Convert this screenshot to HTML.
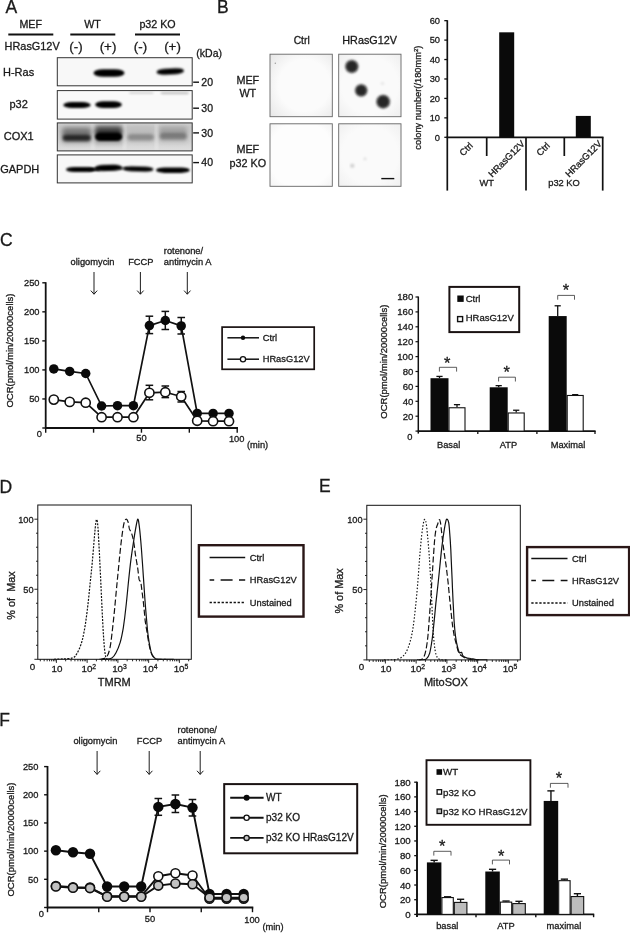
<!DOCTYPE html>
<html lang="en"><head><meta charset="utf-8"><title>Figure</title>
<style>
html,body{margin:0;padding:0;background:#fff;}
body{width:630px;height:938px;overflow:hidden;}
svg{display:block;}
svg text{font-family:"Liberation Sans",sans-serif;fill:#1a1a1a;stroke:#1a1a1a;stroke-width:0.3px;}
</style></head><body>
<svg width="630" height="938" viewBox="0 0 630 938">
<defs>
<filter id="bl05" x="-20%" y="-50%" width="140%" height="200%"><feGaussianBlur stdDeviation="0.5"/></filter>
<filter id="bl08" x="-20%" y="-80%" width="140%" height="260%"><feGaussianBlur stdDeviation="0.8"/></filter>
<filter id="bl1" x="-20%" y="-80%" width="140%" height="260%"><feGaussianBlur stdDeviation="1.1"/></filter>
<filter id="bl15" x="-20%" y="-80%" width="140%" height="260%"><feGaussianBlur stdDeviation="1.5"/></filter>
<filter id="bl2" x="-30%" y="-100%" width="160%" height="300%"><feGaussianBlur stdDeviation="2.2"/></filter>
<filter id="bl3" x="-30%" y="-100%" width="160%" height="300%"><feGaussianBlur stdDeviation="3"/></filter>
<linearGradient id="cox" x1="0" y1="0" x2="0" y2="1"><stop offset="0" stop-color="#cdcdcd"/><stop offset="0.15" stop-color="#c6c6c6"/><stop offset="0.65" stop-color="#d0d0d0"/><stop offset="1" stop-color="#dfdfdf"/></linearGradient>
<radialGradient id="g1" cx="0.55" cy="0.5" r="0.75"><stop offset="0.55" stop-color="#fbfbfb"/><stop offset="1" stop-color="#e6e6e6"/></radialGradient>
<radialGradient id="g2" cx="0.5" cy="0.5" r="0.75"><stop offset="0.6" stop-color="#fafafa"/><stop offset="1" stop-color="#ececec"/></radialGradient>
<radialGradient id="g3" cx="0.5" cy="0.5" r="0.75"><stop offset="0.7" stop-color="#fdfdfd"/><stop offset="1" stop-color="#f1f1f1"/></radialGradient>
<radialGradient id="g4" cx="0.5" cy="0.5" r="0.75"><stop offset="0.6" stop-color="#fafafa"/><stop offset="1" stop-color="#eeeeee"/></radialGradient>
</defs>
<rect width="630" height="938" fill="#fff"/>
<text x="5.4" y="13.3" font-size="17.5" text-anchor="start" >A</text>
<text x="30.7" y="27.5" font-size="10.7" text-anchor="middle" >MEF</text>
<text x="92.6" y="27.5" font-size="10.7" text-anchor="middle" >WT</text>
<text x="157.5" y="27.5" font-size="10.7" text-anchor="middle" >p32 KO</text>
<line x1="8.3" y1="34.5" x2="53.3" y2="34.5" stroke="#111" stroke-width="1.8" />
<line x1="70.3" y1="34.5" x2="115.3" y2="34.5" stroke="#111" stroke-width="1.8" />
<line x1="135" y1="34.5" x2="180" y2="34.5" stroke="#111" stroke-width="1.8" />
<text x="4.6" y="50.2" font-size="10.9" text-anchor="start" >HRasG12V</text>
<text x="76" y="50.6" font-size="13.3" text-anchor="middle" >(-)</text>
<text x="108" y="50.6" font-size="13.3" text-anchor="middle" >(+)</text>
<text x="140.5" y="50.6" font-size="13.3" text-anchor="middle" >(-)</text>
<text x="172.5" y="50.6" font-size="13.3" text-anchor="middle" >(+)</text>
<text x="196.3" y="56.9" font-size="10.5" text-anchor="start" >(kDa)</text>
<text x="3.0" y="75.8" font-size="11" text-anchor="start" >H-Ras</text>
<text x="9.4" y="107.5" font-size="11" text-anchor="start" >p32</text>
<text x="3.7" y="140.0" font-size="11" text-anchor="start" >COX1</text>
<text x="0.2" y="172.9" font-size="11" text-anchor="start" >GAPDH</text>
<clipPath id="cb0"><rect x="57.3" y="57.7" width="134.89999999999998" height="28.099999999999994"/></clipPath>
<rect x="57.30" y="57.70" width="134.90" height="28.10" fill="#f8f8f8" stroke="none" stroke-width="0" />
<clipPath id="cb1"><rect x="57.3" y="90.6" width="134.89999999999998" height="28.5"/></clipPath>
<rect x="57.30" y="90.60" width="134.90" height="28.50" fill="#f9f9f9" stroke="none" stroke-width="0" />
<clipPath id="cb2"><rect x="57.3" y="122.9" width="134.89999999999998" height="28.0"/></clipPath>
<rect x="57.30" y="122.90" width="134.90" height="28.00" fill="#d2d2d2" stroke="none" stroke-width="0" />
<clipPath id="cb3"><rect x="57.3" y="154.9" width="134.89999999999998" height="28.0"/></clipPath>
<rect x="57.30" y="154.90" width="134.90" height="28.00" fill="#f8f8f8" stroke="none" stroke-width="0" />
<g clip-path="url(#cb0)">
<rect clip-path="url(#cb0)" x="93.5" y="69.2" width="31.0" height="7.6" rx="9.69" ry="3.80" fill="#000" opacity="1.0" filter="url(#bl1)"/>
<rect clip-path="url(#cb0)" x="156.5" y="68.4" width="27.5" height="6.0" rx="8.59" ry="3.00" fill="#000" opacity="1.0" filter="url(#bl1)" transform="rotate(-3 170.25 71.4)"/>
</g>
<g clip-path="url(#cb1)">
<rect clip-path="url(#cb1)" x="63.3" y="102.0" width="27.400000000000006" height="6.0" rx="8.56" ry="3.00" fill="#000" opacity="1.0" filter="url(#bl1)"/>
<rect clip-path="url(#cb1)" x="95.2" y="101.3" width="26.599999999999994" height="6.8" rx="8.31" ry="3.40" fill="#000" opacity="1.0" filter="url(#bl1)"/>
<rect clip-path="url(#cb1)" x="128.5" y="92.0" width="25.5" height="2.0" rx="3.20" ry="1.00" fill="#000" opacity="0.15" filter="url(#bl08)"/>
<rect clip-path="url(#cb1)" x="160.5" y="92.10000000000001" width="28.5" height="2.2" rx="3.52" ry="1.10" fill="#000" opacity="0.22" filter="url(#bl08)"/>
</g>
<g clip-path="url(#cb2)">
<rect x="57.3" y="122.9" width="134.89999999999998" height="28" fill="url(#cox)"/>
<rect x="91.2" y="124" width="3.2" height="26" fill="#fff" opacity="0.30" filter="url(#bl15)"/>
<rect x="122.9" y="124" width="3.2" height="26" fill="#fff" opacity="0.30" filter="url(#bl15)"/>
<rect x="154.9" y="124" width="3.2" height="26" fill="#fff" opacity="0.30" filter="url(#bl15)"/>
<rect clip-path="url(#cb2)" x="61.5" y="127.0" width="30.0" height="17" rx="3.00" ry="3.00" fill="#000" opacity="0.16" filter="url(#bl2)"/>
<rect clip-path="url(#cb2)" x="94.5" y="125.0" width="28.0" height="19" rx="3.00" ry="3.00" fill="#000" opacity="0.22" filter="url(#bl2)"/>
<rect clip-path="url(#cb2)" x="127" y="128.0" width="27.5" height="15" rx="3.00" ry="3.00" fill="#000" opacity="0.06" filter="url(#bl2)"/>
<rect clip-path="url(#cb2)" x="159" y="126.0" width="28.5" height="17" rx="3.00" ry="3.00" fill="#000" opacity="0.08" filter="url(#bl2)"/>
<rect clip-path="url(#cb2)" x="62.5" y="128.5" width="28.5" height="9" rx="4.00" ry="4.00" fill="#000" opacity="0.3" filter="url(#bl2)"/>
<rect clip-path="url(#cb2)" x="62.5" y="134.7" width="28.5" height="6.6" rx="4.00" ry="3.30" fill="#000" opacity="0.74" filter="url(#bl15)"/>
<rect clip-path="url(#cb2)" x="95.3" y="127.25" width="26.700000000000003" height="9.5" rx="4.00" ry="4.00" fill="#000" opacity="0.62" filter="url(#bl2)"/>
<rect clip-path="url(#cb2)" x="95" y="132.5" width="27.200000000000003" height="8.6" rx="5.00" ry="4.30" fill="#000" opacity="1.0" filter="url(#bl1)"/>
<rect clip-path="url(#cb2)" x="127.5" y="133.95" width="26.5" height="6.5" rx="4.00" ry="3.25" fill="#000" opacity="0.27" filter="url(#bl15)"/>
<rect clip-path="url(#cb2)" x="159.5" y="128.0" width="27.5" height="8" rx="4.00" ry="4.00" fill="#000" opacity="0.13" filter="url(#bl2)"/>
<rect clip-path="url(#cb2)" x="159.5" y="133.0" width="27.5" height="6.8" rx="4.00" ry="3.40" fill="#000" opacity="0.3" filter="url(#bl15)"/>
</g>
<g clip-path="url(#cb3)">
<rect clip-path="url(#cb3)" x="66" y="167.0" width="29" height="5.0" rx="8.00" ry="2.50" fill="#000" opacity="1" filter="url(#bl08)"/>
<rect clip-path="url(#cb3)" x="94.5" y="164.8" width="27.5" height="6.2" rx="8.59" ry="3.10" fill="#000" opacity="1" filter="url(#bl08)" transform="rotate(-1.5 108.25 167.9)"/>
<rect clip-path="url(#cb3)" x="123.5" y="166.6" width="30.0" height="5.0" rx="8.00" ry="2.50" fill="#000" opacity="1" filter="url(#bl08)" transform="rotate(1.5 138.5 169.1)"/>
<rect clip-path="url(#cb3)" x="156" y="167.5" width="33.80000000000001" height="5.4" rx="8.64" ry="2.70" fill="#000" opacity="1" filter="url(#bl08)"/>
<rect clip-path="url(#cb3)" x="88" y="167.9" width="12" height="3.0" rx="3.75" ry="1.50" fill="#000" opacity="0.9" filter="url(#bl08)"/>
<rect clip-path="url(#cb3)" x="118" y="167.3" width="10" height="2.2" rx="3.12" ry="1.10" fill="#000" opacity="0.7" filter="url(#bl08)"/>
</g>
<rect x="57.30" y="57.70" width="134.90" height="28.10" fill="none" stroke="#333" stroke-width="1.0" />
<rect x="57.30" y="90.60" width="134.90" height="28.50" fill="none" stroke="#333" stroke-width="1.0" />
<rect x="57.30" y="122.90" width="134.90" height="28.00" fill="none" stroke="#333" stroke-width="1.0" />
<rect x="57.30" y="154.90" width="134.90" height="28.00" fill="none" stroke="#333" stroke-width="1.0" />
<line x1="193.2" y1="82.2" x2="199" y2="82.2" stroke="#111" stroke-width="1.4" />
<text x="201.3" y="85.8" font-size="10.5" text-anchor="start" >20</text>
<line x1="193.2" y1="108.2" x2="199" y2="108.2" stroke="#111" stroke-width="1.4" />
<text x="201.3" y="111.8" font-size="10.5" text-anchor="start" >30</text>
<line x1="193.2" y1="132.9" x2="199" y2="132.9" stroke="#111" stroke-width="1.4" />
<text x="201.3" y="136.5" font-size="10.5" text-anchor="start" >30</text>
<line x1="193.2" y1="162.6" x2="199" y2="162.6" stroke="#111" stroke-width="1.4" />
<text x="201.3" y="166.2" font-size="10.5" text-anchor="start" >40</text>
<text x="217" y="13.4" font-size="17.5" text-anchor="start" >B</text>
<text x="301.7" y="44.3" font-size="10.3" text-anchor="middle" >Ctrl</text>
<text x="369.6" y="44.3" font-size="10.8" text-anchor="middle" >HRasG12V</text>
<text x="247.8" y="84.3" font-size="10.8" text-anchor="middle" >MEF</text>
<text x="247.8" y="96.9" font-size="10.8" text-anchor="middle" >WT</text>
<text x="247.8" y="152.7" font-size="10.8" text-anchor="middle" >MEF</text>
<text x="247.9" y="166.5" font-size="10.8" text-anchor="middle" >p32 KO</text>
<rect x="270.00" y="54.20" width="62.30" height="62.50" fill="url(#g1)" stroke="#666" stroke-width="0.9" />
<rect x="338.70" y="54.20" width="62.30" height="62.50" fill="url(#g2)" stroke="#666" stroke-width="0.9" />
<rect x="270.00" y="123.80" width="62.30" height="62.50" fill="url(#g3)" stroke="#666" stroke-width="0.9" />
<rect x="338.70" y="123.80" width="62.30" height="62.50" fill="url(#g4)" stroke="#666" stroke-width="0.9" />
<circle cx="351.8" cy="66.5" r="7.0" fill="#555" opacity="0.55" filter="url(#bl08)"/>
<circle cx="351.8" cy="66.5" r="5.8" fill="#262626" filter="url(#bl08)"/>
<circle cx="361.2" cy="90.4" r="6.6000000000000005" fill="#555" opacity="0.55" filter="url(#bl08)"/>
<circle cx="361.2" cy="90.4" r="5.4" fill="#262626" filter="url(#bl08)"/>
<circle cx="383.2" cy="101.7" r="7.3" fill="#555" opacity="0.55" filter="url(#bl08)"/>
<circle cx="383.2" cy="101.7" r="6.1" fill="#262626" filter="url(#bl08)"/>
<circle cx="275.3" cy="63.3" r="0.7" fill="#999"/>
<circle cx="352.3" cy="165.8" r="2.2" fill="#d4d4d4" filter="url(#bl08)"/>
<circle cx="365" cy="158.8" r="1.6" fill="#e2e2e2" filter="url(#bl08)"/>
<circle cx="382.5" cy="83.5" r="1.8" fill="#e8e8e8" filter="url(#bl08)"/>
<line x1="381.3" y1="178.6" x2="394.3" y2="178.6" stroke="#111" stroke-width="1.4" />
<line x1="447.3" y1="20.2" x2="447.3" y2="190.6" stroke="#111" stroke-width="1.7" />
<line x1="446.5" y1="137.3" x2="603.5" y2="137.3" stroke="#111" stroke-width="1.8" />
<line x1="444.3" y1="137.3" x2="447.3" y2="137.3" stroke="#111" stroke-width="1.3" />
<text x="440" y="140.60000000000002" font-size="9.3" text-anchor="end" >0</text>
<line x1="444.3" y1="117.86000000000001" x2="447.3" y2="117.86000000000001" stroke="#111" stroke-width="1.3" />
<text x="440" y="121.16000000000001" font-size="9.3" text-anchor="end" >10</text>
<line x1="444.3" y1="98.42000000000002" x2="447.3" y2="98.42000000000002" stroke="#111" stroke-width="1.3" />
<text x="440" y="101.72000000000001" font-size="9.3" text-anchor="end" >20</text>
<line x1="444.3" y1="78.98000000000002" x2="447.3" y2="78.98000000000002" stroke="#111" stroke-width="1.3" />
<text x="440" y="82.28000000000002" font-size="9.3" text-anchor="end" >30</text>
<line x1="444.3" y1="59.54000000000002" x2="447.3" y2="59.54000000000002" stroke="#111" stroke-width="1.3" />
<text x="440" y="62.84000000000002" font-size="9.3" text-anchor="end" >40</text>
<line x1="444.3" y1="40.10000000000001" x2="447.3" y2="40.10000000000001" stroke="#111" stroke-width="1.3" />
<text x="440" y="43.400000000000006" font-size="9.3" text-anchor="end" >50</text>
<line x1="444.3" y1="20.66000000000001" x2="447.3" y2="20.66000000000001" stroke="#111" stroke-width="1.3" />
<text x="440" y="23.96000000000001" font-size="9.3" text-anchor="end" >60</text>
<rect x="499.20" y="32.32" width="15.00" height="104.98" fill="#0a0a0a" stroke="none" stroke-width="0" />
<rect x="575.80" y="115.92" width="15.00" height="21.38" fill="#0a0a0a" stroke="none" stroke-width="0" />
<line x1="486.7" y1="137.3" x2="486.7" y2="156" stroke="#111" stroke-width="1.7" />
<line x1="564.3" y1="137.3" x2="564.3" y2="156" stroke="#111" stroke-width="1.7" />
<line x1="526" y1="137.3" x2="526" y2="190.6" stroke="#111" stroke-width="1.7" />
<line x1="602.7" y1="137.3" x2="602.7" y2="190.6" stroke="#111" stroke-width="1.7" />
<text x="473.6" y="146.2" font-size="9.3" text-anchor="end" transform="rotate(-45 473.6 146.2)" >Ctrl</text>
<text x="525.4" y="144.4" font-size="9.3" text-anchor="end" transform="rotate(-45 525.4 144.4)" >HRasG12V</text>
<text x="550.6" y="146.2" font-size="9.3" text-anchor="end" transform="rotate(-45 550.6 146.2)" >Ctrl</text>
<text x="602.4" y="144.4" font-size="9.3" text-anchor="end" transform="rotate(-45 602.4 144.4)" >HRasG12V</text>
<text x="486.7" y="186.3" font-size="9.3" text-anchor="middle" >WT</text>
<text x="564" y="186.3" font-size="9.3" text-anchor="middle" >p32 KO</text>
<text font-size="9.3" text-anchor="middle" transform="translate(421.3 97.6) rotate(-90)">colony number(/180mm<tspan font-size="6" dy="-3.5">2</tspan><tspan dy="3.5">)</tspan></text>
<text x="-0.1" y="246" font-size="17.5" text-anchor="start" >C</text>
<text x="70.6" y="264.8" font-size="9.3" text-anchor="start" >oligomycin</text>
<text x="128.2" y="264.8" font-size="9.3" text-anchor="start" >FCCP</text>
<text x="163.8" y="254.1" font-size="9.3" text-anchor="start" >rotenone/</text>
<text x="163.8" y="264.8" font-size="9.3" text-anchor="start" >antimycin A</text>
<line x1="94" y1="272" x2="94" y2="294.2" stroke="#111" stroke-width="0.95" />
<path d="M90.8 290.59999999999997 L94 294.2 L97.2 290.59999999999997" fill="none" stroke="#111" stroke-width="0.95"/>
<line x1="140.4" y1="272" x2="140.4" y2="294.2" stroke="#111" stroke-width="0.95" />
<path d="M137.20000000000002 290.59999999999997 L140.4 294.2 L143.6 290.59999999999997" fill="none" stroke="#111" stroke-width="0.95"/>
<line x1="187.3" y1="272" x2="187.3" y2="294.2" stroke="#111" stroke-width="0.95" />
<path d="M184.10000000000002 290.59999999999997 L187.3 294.2 L190.5 290.59999999999997" fill="none" stroke="#111" stroke-width="0.95"/>
<line x1="45.7" y1="282.2" x2="45.7" y2="428.8" stroke="#111" stroke-width="1.8" />
<line x1="45.2" y1="428.0" x2="238.0" y2="428.0" stroke="#111" stroke-width="1.8" />
<line x1="42.300000000000004" y1="428.0" x2="45.7" y2="428.0" stroke="#111" stroke-width="1.4" />
<line x1="42.300000000000004" y1="398.96" x2="45.7" y2="398.96" stroke="#111" stroke-width="1.4" />
<text x="39.5" y="402.26" font-size="9.3" text-anchor="end" >50</text>
<line x1="42.300000000000004" y1="369.92" x2="45.7" y2="369.92" stroke="#111" stroke-width="1.4" />
<text x="39.5" y="373.22" font-size="9.3" text-anchor="end" >100</text>
<line x1="42.300000000000004" y1="340.88" x2="45.7" y2="340.88" stroke="#111" stroke-width="1.4" />
<text x="39.5" y="344.18" font-size="9.3" text-anchor="end" >150</text>
<line x1="42.300000000000004" y1="311.84000000000003" x2="45.7" y2="311.84000000000003" stroke="#111" stroke-width="1.4" />
<text x="39.5" y="315.14000000000004" font-size="9.3" text-anchor="end" >200</text>
<line x1="42.300000000000004" y1="282.8" x2="45.7" y2="282.8" stroke="#111" stroke-width="1.4" />
<text x="39.5" y="286.1" font-size="9.3" text-anchor="end" >250</text>
<line x1="45.7" y1="428.0" x2="45.7" y2="432.7" stroke="#111" stroke-width="1.4" />
<line x1="93.575" y1="428.0" x2="93.575" y2="432.7" stroke="#111" stroke-width="1.4" />
<line x1="141.45" y1="428.0" x2="141.45" y2="432.7" stroke="#111" stroke-width="1.4" />
<line x1="189.325" y1="428.0" x2="189.325" y2="432.7" stroke="#111" stroke-width="1.4" />
<line x1="237.2" y1="428.0" x2="237.2" y2="432.7" stroke="#111" stroke-width="1.4" />
<text x="39.3" y="437.2" font-size="9.3" text-anchor="middle" >0</text>
<text x="141.45" y="441" font-size="9.3" text-anchor="middle" >50</text>
<text x="236.7" y="441.6" font-size="9.3" text-anchor="middle" >100</text>
<text x="247" y="448.2" font-size="9.3" text-anchor="start" >(min)</text>
<text font-size="9.5" text-anchor="middle" transform="translate(13.3 350.5) rotate(-90)">OCR(pmol/min/20000cells)</text>
<polyline points="53.8,368.9 69.7,371.4 85.7,373.5 101.6,406.0 117.5,405.7 133.4,405.7 149.4,325.6 165.3,320.5 181.2,325.9 197.2,413.4 213.1,413.4 229.0,413.4" fill="none" stroke="#111" stroke-width="1.7" stroke-linejoin="round"/>
<line x1="149.38" y1="316.2" x2="149.38" y2="333.6" stroke="#111" stroke-width="1.5" />
<line x1="145.57999999999998" y1="316.2" x2="153.18" y2="316.2" stroke="#111" stroke-width="1.5" />
<line x1="145.57999999999998" y1="333.6" x2="153.18" y2="333.6" stroke="#111" stroke-width="1.5" />
<line x1="165.31" y1="311.4" x2="165.31" y2="329.5" stroke="#111" stroke-width="1.5" />
<line x1="161.51" y1="311.4" x2="169.11" y2="311.4" stroke="#111" stroke-width="1.5" />
<line x1="161.51" y1="329.5" x2="169.11" y2="329.5" stroke="#111" stroke-width="1.5" />
<line x1="181.24" y1="317.5" x2="181.24" y2="334" stroke="#111" stroke-width="1.5" />
<line x1="177.44" y1="317.5" x2="185.04000000000002" y2="317.5" stroke="#111" stroke-width="1.5" />
<line x1="177.44" y1="334" x2="185.04000000000002" y2="334" stroke="#111" stroke-width="1.5" />
<circle cx="53.8" cy="368.9" r="4.75" fill="#0a0a0a"/>
<circle cx="69.7" cy="371.4" r="4.75" fill="#0a0a0a"/>
<circle cx="85.7" cy="373.5" r="4.75" fill="#0a0a0a"/>
<circle cx="101.6" cy="406.0" r="4.75" fill="#0a0a0a"/>
<circle cx="117.5" cy="405.7" r="4.75" fill="#0a0a0a"/>
<circle cx="133.4" cy="405.7" r="4.75" fill="#0a0a0a"/>
<circle cx="149.4" cy="325.6" r="4.75" fill="#0a0a0a"/>
<circle cx="165.3" cy="320.5" r="4.75" fill="#0a0a0a"/>
<circle cx="181.2" cy="325.9" r="4.75" fill="#0a0a0a"/>
<circle cx="197.2" cy="413.4" r="4.75" fill="#0a0a0a"/>
<circle cx="213.1" cy="413.4" r="4.75" fill="#0a0a0a"/>
<circle cx="229.0" cy="413.4" r="4.75" fill="#0a0a0a"/>
<polyline points="53.8,399.6 69.7,401.9 85.7,402.7 101.6,417.2 117.5,417.2 133.4,417.2 149.4,392.8 165.3,392.2 181.2,396.5 197.2,420.8 213.1,421.2 229.0,421.2" fill="none" stroke="#111" stroke-width="1.7" stroke-linejoin="round"/>
<line x1="149.38" y1="385.3" x2="149.38" y2="399.8" stroke="#111" stroke-width="1.5" />
<line x1="145.57999999999998" y1="385.3" x2="153.18" y2="385.3" stroke="#111" stroke-width="1.5" />
<line x1="145.57999999999998" y1="399.8" x2="153.18" y2="399.8" stroke="#111" stroke-width="1.5" />
<line x1="165.31" y1="386" x2="165.31" y2="397.6" stroke="#111" stroke-width="1.5" />
<line x1="161.51" y1="386" x2="169.11" y2="386" stroke="#111" stroke-width="1.5" />
<line x1="161.51" y1="397.6" x2="169.11" y2="397.6" stroke="#111" stroke-width="1.5" />
<line x1="181.24" y1="391.5" x2="181.24" y2="402" stroke="#111" stroke-width="1.5" />
<line x1="177.44" y1="391.5" x2="185.04000000000002" y2="391.5" stroke="#111" stroke-width="1.5" />
<line x1="177.44" y1="402" x2="185.04000000000002" y2="402" stroke="#111" stroke-width="1.5" />
<circle cx="53.8" cy="399.6" r="4.6" fill="#fff" stroke="#111" stroke-width="1.6"/>
<circle cx="69.7" cy="401.9" r="4.6" fill="#fff" stroke="#111" stroke-width="1.6"/>
<circle cx="85.7" cy="402.7" r="4.6" fill="#fff" stroke="#111" stroke-width="1.6"/>
<circle cx="101.6" cy="417.2" r="4.6" fill="#fff" stroke="#111" stroke-width="1.6"/>
<circle cx="117.5" cy="417.2" r="4.6" fill="#fff" stroke="#111" stroke-width="1.6"/>
<circle cx="133.4" cy="417.2" r="4.6" fill="#fff" stroke="#111" stroke-width="1.6"/>
<circle cx="149.4" cy="392.8" r="4.6" fill="#fff" stroke="#111" stroke-width="1.6"/>
<circle cx="165.3" cy="392.2" r="4.6" fill="#fff" stroke="#111" stroke-width="1.6"/>
<circle cx="181.2" cy="396.5" r="4.6" fill="#fff" stroke="#111" stroke-width="1.6"/>
<circle cx="197.2" cy="420.8" r="4.6" fill="#fff" stroke="#111" stroke-width="1.6"/>
<circle cx="213.1" cy="421.2" r="4.6" fill="#fff" stroke="#111" stroke-width="1.6"/>
<circle cx="229.0" cy="421.2" r="4.6" fill="#fff" stroke="#111" stroke-width="1.6"/>
<rect x="222.10" y="327.10" width="92.10" height="42.20" fill="#fff" stroke="#1a1212" stroke-width="1.7" />
<line x1="227.4" y1="337.8" x2="259" y2="337.8" stroke="#111" stroke-width="1.5" />
<circle cx="243" cy="337.8" r="2.2" fill="#0a0a0a"/>
<text x="262.7" y="341" font-size="9.3" text-anchor="start" >Ctrl</text>
<line x1="227.4" y1="359.2" x2="259" y2="359.2" stroke="#111" stroke-width="1.5" />
<circle cx="243" cy="359.2" r="2.6" fill="#fff" stroke="#111" stroke-width="1.3"/>
<text x="262.7" y="362.4" font-size="9.3" text-anchor="start" >HRasG12V</text>
<line x1="418.3" y1="296.5" x2="418.3" y2="433.6" stroke="#111" stroke-width="1.5" />
<line x1="417.8" y1="431.1" x2="595.6" y2="431.1" stroke="#111" stroke-width="1.7" />
<line x1="415.5" y1="431.1" x2="418.3" y2="431.1" stroke="#111" stroke-width="1.2" />
<line x1="415.5" y1="416.20000000000005" x2="418.3" y2="416.20000000000005" stroke="#111" stroke-width="1.2" />
<text x="413.3" y="419.6" font-size="9.6" text-anchor="end" >20</text>
<line x1="415.5" y1="401.3" x2="418.3" y2="401.3" stroke="#111" stroke-width="1.2" />
<text x="413.3" y="404.7" font-size="9.6" text-anchor="end" >40</text>
<line x1="415.5" y1="386.40000000000003" x2="418.3" y2="386.40000000000003" stroke="#111" stroke-width="1.2" />
<text x="413.3" y="389.8" font-size="9.6" text-anchor="end" >60</text>
<line x1="415.5" y1="371.5" x2="418.3" y2="371.5" stroke="#111" stroke-width="1.2" />
<text x="413.3" y="374.9" font-size="9.6" text-anchor="end" >80</text>
<line x1="415.5" y1="356.6" x2="418.3" y2="356.6" stroke="#111" stroke-width="1.2" />
<text x="413.3" y="360.0" font-size="9.6" text-anchor="end" >100</text>
<line x1="415.5" y1="341.70000000000005" x2="418.3" y2="341.70000000000005" stroke="#111" stroke-width="1.2" />
<text x="413.3" y="345.1" font-size="9.6" text-anchor="end" >120</text>
<line x1="415.5" y1="326.8" x2="418.3" y2="326.8" stroke="#111" stroke-width="1.2" />
<text x="413.3" y="330.2" font-size="9.6" text-anchor="end" >140</text>
<line x1="415.5" y1="311.9" x2="418.3" y2="311.9" stroke="#111" stroke-width="1.2" />
<text x="413.3" y="315.29999999999995" font-size="9.6" text-anchor="end" >160</text>
<line x1="415.5" y1="297.0" x2="418.3" y2="297.0" stroke="#111" stroke-width="1.2" />
<text x="413.3" y="300.4" font-size="9.6" text-anchor="end" >180</text>
<text x="412.5" y="439.8" font-size="9.3" text-anchor="end" >0</text>
<line x1="477.8" y1="431.1" x2="477.8" y2="433.90000000000003" stroke="#111" stroke-width="1.3" />
<line x1="536.9" y1="431.1" x2="536.9" y2="433.90000000000003" stroke="#111" stroke-width="1.3" />
<line x1="595.0" y1="431.1" x2="595.0" y2="433.90000000000003" stroke="#111" stroke-width="1.3" />
<text font-size="9.5" text-anchor="middle" transform="translate(387.2 361.7) rotate(-90)">OCR(pmol/min/20000cells)</text>
<line x1="439.5" y1="378.20500000000004" x2="439.5" y2="376.41700000000003" stroke="#111" stroke-width="1.3" />
<line x1="436.4" y1="376.41700000000003" x2="442.6" y2="376.41700000000003" stroke="#111" stroke-width="1.3" />
<line x1="457.0" y1="407.26" x2="457.0" y2="404.65250000000003" stroke="#111" stroke-width="1.3" />
<line x1="453.9" y1="404.65250000000003" x2="460.1" y2="404.65250000000003" stroke="#111" stroke-width="1.3" />
<rect x="430.50" y="378.21" width="18.00" height="52.90" fill="#0a0a0a" stroke="none" stroke-width="0" />
<rect x="449.00" y="407.76" width="16.00" height="23.34" fill="#fff" stroke="#111" stroke-width="1.1" />
<line x1="498.7" y1="387.29400000000004" x2="498.7" y2="385.65500000000003" stroke="#111" stroke-width="1.3" />
<line x1="495.59999999999997" y1="385.65500000000003" x2="501.8" y2="385.65500000000003" stroke="#111" stroke-width="1.3" />
<line x1="516.2" y1="412.475" x2="516.2" y2="410.24" stroke="#111" stroke-width="1.3" />
<line x1="513.1" y1="410.24" x2="519.3000000000001" y2="410.24" stroke="#111" stroke-width="1.3" />
<rect x="489.70" y="387.29" width="18.00" height="43.81" fill="#0a0a0a" stroke="none" stroke-width="0" />
<rect x="508.20" y="412.98" width="16.00" height="18.13" fill="#fff" stroke="#111" stroke-width="1.1" />
<line x1="557.7" y1="316.072" x2="557.7" y2="305.791" stroke="#111" stroke-width="1.3" />
<line x1="554.6" y1="305.791" x2="560.8000000000001" y2="305.791" stroke="#111" stroke-width="1.3" />
<line x1="575.2" y1="394.96750000000003" x2="575.2" y2="394.6695" stroke="#111" stroke-width="1.3" />
<line x1="572.1" y1="394.6695" x2="578.3000000000001" y2="394.6695" stroke="#111" stroke-width="1.3" />
<rect x="548.70" y="316.07" width="18.00" height="115.03" fill="#0a0a0a" stroke="none" stroke-width="0" />
<rect x="567.20" y="395.47" width="16.00" height="35.63" fill="#fff" stroke="#111" stroke-width="1.1" />
<path d="M439.4 371.6 V367.3 H456.6 V371.6" fill="none" stroke="#333" stroke-width="0.8"/>
<text x="447.3" y="368.6" font-size="16.5" text-anchor="middle" >*</text>
<path d="M498.6 381.5 V377.2 H515.4 V381.5" fill="none" stroke="#333" stroke-width="0.8"/>
<text x="506.6" y="377.8" font-size="16.5" text-anchor="middle" >*</text>
<path d="M557.7 299.7 V295.4 H574.5 V299.7" fill="none" stroke="#333" stroke-width="0.8"/>
<text x="566" y="296" font-size="16.5" text-anchor="middle" >*</text>
<text x="448.6" y="447.8" font-size="9.3" text-anchor="middle" >Basal</text>
<text x="508.4" y="447.8" font-size="9.3" text-anchor="middle" >ATP</text>
<text x="568" y="447.8" font-size="9.3" text-anchor="middle" >Maximal</text>
<rect x="449.40" y="286.90" width="69.80" height="45.20" fill="#fff" stroke="#1a1212" stroke-width="2" />
<rect x="457.30" y="295.50" width="6.40" height="6.40" fill="#0a0a0a" stroke="none" stroke-width="0" />
<text x="465.7" y="301.9" font-size="9.5" text-anchor="start" >Ctrl</text>
<rect x="457.60" y="316.60" width="5.00" height="5.00" fill="#fff" stroke="#111" stroke-width="1.4" />
<text x="465.7" y="321.1" font-size="9.5" text-anchor="start" >HRasG12V</text>
<text x="-0.5" y="492.5" font-size="17.5" text-anchor="start" >D</text>
<rect x="37.80" y="505.00" width="153.50" height="154.30" fill="none" stroke="#111" stroke-width="1.0" />
<line x1="34.4" y1="659.3" x2="37.8" y2="659.3" stroke="#111" stroke-width="0.9" />
<line x1="36.0" y1="645.29" x2="37.8" y2="645.29" stroke="#111" stroke-width="0.9" />
<line x1="36.0" y1="631.28" x2="37.8" y2="631.28" stroke="#111" stroke-width="0.9" />
<line x1="36.0" y1="617.27" x2="37.8" y2="617.27" stroke="#111" stroke-width="0.9" />
<line x1="36.0" y1="603.26" x2="37.8" y2="603.26" stroke="#111" stroke-width="0.9" />
<line x1="34.4" y1="589.25" x2="37.8" y2="589.25" stroke="#111" stroke-width="0.9" />
<line x1="36.0" y1="575.24" x2="37.8" y2="575.24" stroke="#111" stroke-width="0.9" />
<line x1="36.0" y1="561.23" x2="37.8" y2="561.23" stroke="#111" stroke-width="0.9" />
<line x1="36.0" y1="547.22" x2="37.8" y2="547.22" stroke="#111" stroke-width="0.9" />
<line x1="36.0" y1="533.21" x2="37.8" y2="533.21" stroke="#111" stroke-width="0.9" />
<line x1="34.4" y1="519.2" x2="37.8" y2="519.2" stroke="#111" stroke-width="0.9" />
<text x="33.599999999999994" y="522.5" font-size="9.2" text-anchor="end" >100</text>
<text x="33.599999999999994" y="592.55" font-size="9.2" text-anchor="end" >50</text>
<text x="32.599999999999994" y="669.6" font-size="9.8" text-anchor="middle" >0</text>
<line x1="40.32147858262962" y1="659.3" x2="40.32147858262962" y2="661.3" stroke="#111" stroke-width="0.9" />
<line x1="44.16334473333484" y1="659.3" x2="44.16334473333484" y2="661.3" stroke="#111" stroke-width="0.9" />
<line x1="47.143327633332575" y1="659.3" x2="47.143327633332575" y2="661.3" stroke="#111" stroke-width="0.9" />
<line x1="49.57815094929704" y1="659.3" x2="49.57815094929704" y2="661.3" stroke="#111" stroke-width="0.9" />
<line x1="51.636764730438394" y1="659.3" x2="51.636764730438394" y2="661.3" stroke="#111" stroke-width="0.9" />
<line x1="53.42001710000226" y1="659.3" x2="53.42001710000226" y2="661.3" stroke="#111" stroke-width="0.9" />
<line x1="54.99295716525924" y1="659.3" x2="54.99295716525924" y2="661.3" stroke="#111" stroke-width="0.9" />
<line x1="56.4" y1="659.3" x2="56.4" y2="662.9" stroke="#111" stroke-width="0.9" />
<line x1="65.65667236666742" y1="659.3" x2="65.65667236666742" y2="661.3" stroke="#111" stroke-width="0.9" />
<line x1="71.07147858262962" y1="659.3" x2="71.07147858262962" y2="661.3" stroke="#111" stroke-width="0.9" />
<line x1="74.91334473333484" y1="659.3" x2="74.91334473333484" y2="661.3" stroke="#111" stroke-width="0.9" />
<line x1="77.89332763333258" y1="659.3" x2="77.89332763333258" y2="661.3" stroke="#111" stroke-width="0.9" />
<line x1="80.32815094929704" y1="659.3" x2="80.32815094929704" y2="661.3" stroke="#111" stroke-width="0.9" />
<line x1="82.3867647304384" y1="659.3" x2="82.3867647304384" y2="661.3" stroke="#111" stroke-width="0.9" />
<line x1="84.17001710000227" y1="659.3" x2="84.17001710000227" y2="661.3" stroke="#111" stroke-width="0.9" />
<line x1="85.74295716525924" y1="659.3" x2="85.74295716525924" y2="661.3" stroke="#111" stroke-width="0.9" />
<line x1="87.15" y1="659.3" x2="87.15" y2="662.9" stroke="#111" stroke-width="0.9" />
<line x1="96.40667236666742" y1="659.3" x2="96.40667236666742" y2="661.3" stroke="#111" stroke-width="0.9" />
<line x1="101.82147858262962" y1="659.3" x2="101.82147858262962" y2="661.3" stroke="#111" stroke-width="0.9" />
<line x1="105.66334473333484" y1="659.3" x2="105.66334473333484" y2="661.3" stroke="#111" stroke-width="0.9" />
<line x1="108.64332763333258" y1="659.3" x2="108.64332763333258" y2="661.3" stroke="#111" stroke-width="0.9" />
<line x1="111.07815094929704" y1="659.3" x2="111.07815094929704" y2="661.3" stroke="#111" stroke-width="0.9" />
<line x1="113.1367647304384" y1="659.3" x2="113.1367647304384" y2="661.3" stroke="#111" stroke-width="0.9" />
<line x1="114.92001710000227" y1="659.3" x2="114.92001710000227" y2="661.3" stroke="#111" stroke-width="0.9" />
<line x1="116.49295716525924" y1="659.3" x2="116.49295716525924" y2="661.3" stroke="#111" stroke-width="0.9" />
<line x1="117.9" y1="659.3" x2="117.9" y2="662.9" stroke="#111" stroke-width="0.9" />
<line x1="127.15667236666744" y1="659.3" x2="127.15667236666744" y2="661.3" stroke="#111" stroke-width="0.9" />
<line x1="132.57147858262962" y1="659.3" x2="132.57147858262962" y2="661.3" stroke="#111" stroke-width="0.9" />
<line x1="136.41334473333484" y1="659.3" x2="136.41334473333484" y2="661.3" stroke="#111" stroke-width="0.9" />
<line x1="139.39332763333258" y1="659.3" x2="139.39332763333258" y2="661.3" stroke="#111" stroke-width="0.9" />
<line x1="141.82815094929705" y1="659.3" x2="141.82815094929705" y2="661.3" stroke="#111" stroke-width="0.9" />
<line x1="143.8867647304384" y1="659.3" x2="143.8867647304384" y2="661.3" stroke="#111" stroke-width="0.9" />
<line x1="145.67001710000227" y1="659.3" x2="145.67001710000227" y2="661.3" stroke="#111" stroke-width="0.9" />
<line x1="147.24295716525924" y1="659.3" x2="147.24295716525924" y2="661.3" stroke="#111" stroke-width="0.9" />
<line x1="148.65" y1="659.3" x2="148.65" y2="662.9" stroke="#111" stroke-width="0.9" />
<line x1="157.90667236666744" y1="659.3" x2="157.90667236666744" y2="661.3" stroke="#111" stroke-width="0.9" />
<line x1="163.32147858262962" y1="659.3" x2="163.32147858262962" y2="661.3" stroke="#111" stroke-width="0.9" />
<line x1="167.16334473333484" y1="659.3" x2="167.16334473333484" y2="661.3" stroke="#111" stroke-width="0.9" />
<line x1="170.14332763333258" y1="659.3" x2="170.14332763333258" y2="661.3" stroke="#111" stroke-width="0.9" />
<line x1="172.57815094929705" y1="659.3" x2="172.57815094929705" y2="661.3" stroke="#111" stroke-width="0.9" />
<line x1="174.6367647304384" y1="659.3" x2="174.6367647304384" y2="661.3" stroke="#111" stroke-width="0.9" />
<line x1="176.42001710000227" y1="659.3" x2="176.42001710000227" y2="661.3" stroke="#111" stroke-width="0.9" />
<line x1="177.99295716525924" y1="659.3" x2="177.99295716525924" y2="661.3" stroke="#111" stroke-width="0.9" />
<line x1="179.4" y1="659.3" x2="179.4" y2="662.9" stroke="#111" stroke-width="0.9" />
<line x1="188.65667236666744" y1="659.3" x2="188.65667236666744" y2="661.3" stroke="#111" stroke-width="0.9" />
<text x="56.9" y="672.3" font-size="9.8" text-anchor="middle" >10</text>
<text x="88.8" y="672.3" font-size="9.8" text-anchor="middle">10<tspan font-size="6.8" dy="-3.8">2</tspan></text>
<text x="119.5" y="672.3" font-size="9.8" text-anchor="middle">10<tspan font-size="6.8" dy="-3.8">3</tspan></text>
<text x="150.2" y="672.3" font-size="9.8" text-anchor="middle">10<tspan font-size="6.8" dy="-3.8">4</tspan></text>
<text x="181.0" y="672.3" font-size="9.8" text-anchor="middle">10<tspan font-size="6.8" dy="-3.8">5</tspan></text>
<text x="114.3" y="686.4" font-size="11" text-anchor="middle" >TMRM</text>
<text font-size="10.9" text-anchor="middle" transform="translate(14.9 595.5) rotate(-90)" style="white-space:pre">% of  Max</text>
<clipPath id="hcD"><rect x="37.8" y="505.0" width="153.5" height="154.79999999999995"/></clipPath>
<g clip-path="url(#hcD)" fill="none" stroke="#111" stroke-linejoin="round">
<path d="M54.1 659.3 C55.5 659.2 59.3 659.1 62.4 658.9 C65.5 658.7 70.3 658.7 72.7 657.9 C75.1 657.0 75.5 656.0 76.8 653.7 C78.2 651.5 79.7 648.1 81.0 644.4 C82.2 640.8 83.0 637.6 84.0 632.1 C85.1 626.6 86.1 619.7 87.1 611.4 C88.2 603.2 89.4 590.8 90.2 582.5 C91.1 574.3 91.6 569.5 92.3 561.9 C93.0 554.3 93.8 543.7 94.4 537.1 C95.0 530.6 95.4 525.6 95.8 522.7 C96.2 519.8 96.5 518.9 96.8 519.6 C97.2 520.3 97.5 522.2 97.9 526.8 C98.3 531.5 98.7 540.6 99.1 547.5 C99.5 554.3 99.7 559.5 100.1 568.1 C100.6 576.7 101.1 589.8 101.6 599.1 C102.0 608.3 102.4 616.2 102.8 623.8 C103.2 631.4 103.7 639.3 104.1 644.4 C104.5 649.6 104.9 652.4 105.3 654.8 C105.8 657.2 106.0 658.1 106.7 658.9 C107.5 659.7 109.3 659.2 109.8 659.3" stroke-width="1.2" stroke-dasharray="2 1.3"/>
<path d="M99.5 659.3 C100.0 659.2 101.4 659.3 102.6 658.9 C103.8 658.5 105.5 658.6 106.7 656.8 C108.0 655.1 109.0 652.4 109.8 648.6 C110.7 644.8 111.2 640.3 111.9 634.1 C112.7 627.9 113.5 620.0 114.4 611.4 C115.2 602.8 116.2 591.8 117.1 582.5 C118.0 573.3 119.0 563.3 119.7 555.7 C120.5 548.1 121.1 542.5 121.8 537.1 C122.5 531.8 123.2 526.7 123.9 523.7 C124.6 520.7 125.3 519.5 125.9 519.2 C126.6 518.8 127.4 520.1 128.0 521.7 C128.6 523.3 128.9 527.0 129.4 528.9 C130.0 530.8 130.8 531.0 131.5 533.0 C132.2 535.1 132.9 537.5 133.6 541.3 C134.3 545.1 134.9 551.2 135.6 555.7 C136.3 560.2 137.1 564.1 137.7 568.1 C138.3 572.1 138.6 577.0 139.1 579.4 C139.7 581.9 140.3 580.3 140.8 582.5 C141.3 584.8 141.7 588.7 142.2 592.9 C142.8 597.0 143.4 602.5 143.9 607.3 C144.4 612.1 144.8 617.6 145.3 621.7 C145.9 625.9 146.4 628.3 147.0 632.1 C147.6 635.9 148.4 641.0 149.1 644.4 C149.7 647.9 150.3 650.5 151.1 652.7 C152.0 654.9 153.2 656.8 154.2 657.9 C155.2 659.0 155.4 659.1 157.3 659.3 C159.2 659.5 164.2 659.3 165.6 659.3" stroke-width="1.2" stroke-dasharray="6 2.6"/>
<path d="M101.6 659.3 C102.3 659.3 104.0 659.5 105.7 659.3 C107.4 659.1 110.2 659.0 111.9 657.9 C113.6 656.8 114.7 655.3 116.0 652.7 C117.4 650.1 119.0 646.5 120.2 642.4 C121.4 638.3 122.3 633.8 123.3 627.9 C124.2 622.1 125.1 614.9 125.9 607.3 C126.8 599.7 127.6 590.5 128.4 582.5 C129.2 574.6 130.0 566.7 130.9 559.8 C131.8 553.0 132.8 546.4 133.6 541.3 C134.4 536.1 134.9 532.6 135.6 528.9 C136.3 525.2 137.1 519.9 137.7 519.2 C138.3 518.5 138.6 521.1 139.1 524.8 C139.7 528.4 140.3 535.4 140.8 541.3 C141.3 547.1 141.8 553.7 142.2 559.8 C142.7 566.0 143.0 571.9 143.5 578.4 C143.9 584.9 144.4 592.2 144.9 599.1 C145.4 605.9 146.0 613.5 146.6 619.7 C147.1 625.9 147.6 631.6 148.2 636.2 C148.8 640.8 149.4 644.4 150.1 647.5 C150.7 650.6 151.3 652.9 152.1 654.8 C153.0 656.6 154.2 657.7 155.2 658.5 C156.3 659.2 155.2 659.2 158.3 659.3 C161.4 659.4 171.2 659.3 173.8 659.3" stroke-width="1.2" stroke-dasharray="none"/>
</g>
<rect x="198.90" y="545.20" width="104.60" height="71.40" fill="#fff" stroke="#2a1717" stroke-width="2.4" />
<line x1="209.6" y1="557.5" x2="245.2" y2="557.5" stroke="#111" stroke-width="1.5" stroke-dasharray="none" stroke-dashoffset="0"/>
<text x="249.8" y="560.7" font-size="9.3" text-anchor="start" >Ctrl</text>
<line x1="209.6" y1="580" x2="245.2" y2="580" stroke="#111" stroke-width="1.6" stroke-dasharray="12 6.4" stroke-dashoffset="7.4"/>
<text x="249.8" y="583.2" font-size="9.3" text-anchor="start" >HRasG12V</text>
<line x1="209.6" y1="602.5" x2="245.2" y2="602.5" stroke="#111" stroke-width="1.5" stroke-dasharray="2.3 1.7" stroke-dashoffset="0"/>
<text x="249.8" y="605.7" font-size="9.3" text-anchor="start" >Unstained</text>
<text x="319" y="491.7" font-size="17.5" text-anchor="start" >E</text>
<rect x="366.80" y="505.30" width="153.50" height="154.60" fill="none" stroke="#111" stroke-width="1.0" />
<line x1="363.40000000000003" y1="659.9" x2="366.8" y2="659.9" stroke="#111" stroke-width="0.9" />
<line x1="365.0" y1="645.8299999999999" x2="366.8" y2="645.8299999999999" stroke="#111" stroke-width="0.9" />
<line x1="365.0" y1="631.76" x2="366.8" y2="631.76" stroke="#111" stroke-width="0.9" />
<line x1="365.0" y1="617.69" x2="366.8" y2="617.69" stroke="#111" stroke-width="0.9" />
<line x1="365.0" y1="603.62" x2="366.8" y2="603.62" stroke="#111" stroke-width="0.9" />
<line x1="363.40000000000003" y1="589.55" x2="366.8" y2="589.55" stroke="#111" stroke-width="0.9" />
<line x1="365.0" y1="575.48" x2="366.8" y2="575.48" stroke="#111" stroke-width="0.9" />
<line x1="365.0" y1="561.4100000000001" x2="366.8" y2="561.4100000000001" stroke="#111" stroke-width="0.9" />
<line x1="365.0" y1="547.34" x2="366.8" y2="547.34" stroke="#111" stroke-width="0.9" />
<line x1="365.0" y1="533.27" x2="366.8" y2="533.27" stroke="#111" stroke-width="0.9" />
<line x1="363.40000000000003" y1="519.2" x2="366.8" y2="519.2" stroke="#111" stroke-width="0.9" />
<text x="362.6" y="522.5" font-size="9.2" text-anchor="end" >100</text>
<text x="362.6" y="592.8499999999999" font-size="9.2" text-anchor="end" >50</text>
<text x="361.6" y="669.6" font-size="9.8" text-anchor="middle" >0</text>
<line x1="369.32147858262965" y1="659.9" x2="369.32147858262965" y2="661.9" stroke="#111" stroke-width="0.9" />
<line x1="373.1633447333349" y1="659.9" x2="373.1633447333349" y2="661.9" stroke="#111" stroke-width="0.9" />
<line x1="376.1433276333326" y1="659.9" x2="376.1433276333326" y2="661.9" stroke="#111" stroke-width="0.9" />
<line x1="378.5781509492971" y1="659.9" x2="378.5781509492971" y2="661.9" stroke="#111" stroke-width="0.9" />
<line x1="380.6367647304384" y1="659.9" x2="380.6367647304384" y2="661.9" stroke="#111" stroke-width="0.9" />
<line x1="382.4200171000023" y1="659.9" x2="382.4200171000023" y2="661.9" stroke="#111" stroke-width="0.9" />
<line x1="383.99295716525927" y1="659.9" x2="383.99295716525927" y2="661.9" stroke="#111" stroke-width="0.9" />
<line x1="385.40000000000003" y1="659.9" x2="385.40000000000003" y2="663.5" stroke="#111" stroke-width="0.9" />
<line x1="394.65667236666746" y1="659.9" x2="394.65667236666746" y2="661.9" stroke="#111" stroke-width="0.9" />
<line x1="400.07147858262965" y1="659.9" x2="400.07147858262965" y2="661.9" stroke="#111" stroke-width="0.9" />
<line x1="403.9133447333349" y1="659.9" x2="403.9133447333349" y2="661.9" stroke="#111" stroke-width="0.9" />
<line x1="406.8933276333326" y1="659.9" x2="406.8933276333326" y2="661.9" stroke="#111" stroke-width="0.9" />
<line x1="409.3281509492971" y1="659.9" x2="409.3281509492971" y2="661.9" stroke="#111" stroke-width="0.9" />
<line x1="411.3867647304384" y1="659.9" x2="411.3867647304384" y2="661.9" stroke="#111" stroke-width="0.9" />
<line x1="413.17001710000227" y1="659.9" x2="413.17001710000227" y2="661.9" stroke="#111" stroke-width="0.9" />
<line x1="414.74295716525927" y1="659.9" x2="414.74295716525927" y2="661.9" stroke="#111" stroke-width="0.9" />
<line x1="416.15000000000003" y1="659.9" x2="416.15000000000003" y2="663.5" stroke="#111" stroke-width="0.9" />
<line x1="425.40667236666746" y1="659.9" x2="425.40667236666746" y2="661.9" stroke="#111" stroke-width="0.9" />
<line x1="430.82147858262965" y1="659.9" x2="430.82147858262965" y2="661.9" stroke="#111" stroke-width="0.9" />
<line x1="434.6633447333349" y1="659.9" x2="434.6633447333349" y2="661.9" stroke="#111" stroke-width="0.9" />
<line x1="437.6433276333326" y1="659.9" x2="437.6433276333326" y2="661.9" stroke="#111" stroke-width="0.9" />
<line x1="440.0781509492971" y1="659.9" x2="440.0781509492971" y2="661.9" stroke="#111" stroke-width="0.9" />
<line x1="442.1367647304384" y1="659.9" x2="442.1367647304384" y2="661.9" stroke="#111" stroke-width="0.9" />
<line x1="443.92001710000227" y1="659.9" x2="443.92001710000227" y2="661.9" stroke="#111" stroke-width="0.9" />
<line x1="445.49295716525927" y1="659.9" x2="445.49295716525927" y2="661.9" stroke="#111" stroke-width="0.9" />
<line x1="446.90000000000003" y1="659.9" x2="446.90000000000003" y2="663.5" stroke="#111" stroke-width="0.9" />
<line x1="456.15667236666746" y1="659.9" x2="456.15667236666746" y2="661.9" stroke="#111" stroke-width="0.9" />
<line x1="461.57147858262965" y1="659.9" x2="461.57147858262965" y2="661.9" stroke="#111" stroke-width="0.9" />
<line x1="465.4133447333349" y1="659.9" x2="465.4133447333349" y2="661.9" stroke="#111" stroke-width="0.9" />
<line x1="468.3933276333326" y1="659.9" x2="468.3933276333326" y2="661.9" stroke="#111" stroke-width="0.9" />
<line x1="470.8281509492971" y1="659.9" x2="470.8281509492971" y2="661.9" stroke="#111" stroke-width="0.9" />
<line x1="472.8867647304384" y1="659.9" x2="472.8867647304384" y2="661.9" stroke="#111" stroke-width="0.9" />
<line x1="474.67001710000227" y1="659.9" x2="474.67001710000227" y2="661.9" stroke="#111" stroke-width="0.9" />
<line x1="476.24295716525927" y1="659.9" x2="476.24295716525927" y2="661.9" stroke="#111" stroke-width="0.9" />
<line x1="477.65000000000003" y1="659.9" x2="477.65000000000003" y2="663.5" stroke="#111" stroke-width="0.9" />
<line x1="486.90667236666746" y1="659.9" x2="486.90667236666746" y2="661.9" stroke="#111" stroke-width="0.9" />
<line x1="492.32147858262965" y1="659.9" x2="492.32147858262965" y2="661.9" stroke="#111" stroke-width="0.9" />
<line x1="496.1633447333349" y1="659.9" x2="496.1633447333349" y2="661.9" stroke="#111" stroke-width="0.9" />
<line x1="499.1433276333326" y1="659.9" x2="499.1433276333326" y2="661.9" stroke="#111" stroke-width="0.9" />
<line x1="501.5781509492971" y1="659.9" x2="501.5781509492971" y2="661.9" stroke="#111" stroke-width="0.9" />
<line x1="503.6367647304384" y1="659.9" x2="503.6367647304384" y2="661.9" stroke="#111" stroke-width="0.9" />
<line x1="505.42001710000227" y1="659.9" x2="505.42001710000227" y2="661.9" stroke="#111" stroke-width="0.9" />
<line x1="506.99295716525927" y1="659.9" x2="506.99295716525927" y2="661.9" stroke="#111" stroke-width="0.9" />
<line x1="508.40000000000003" y1="659.9" x2="508.40000000000003" y2="663.5" stroke="#111" stroke-width="0.9" />
<line x1="517.6566723666674" y1="659.9" x2="517.6566723666674" y2="661.9" stroke="#111" stroke-width="0.9" />
<text x="385.90000000000003" y="672.3" font-size="9.8" text-anchor="middle" >10</text>
<text x="417.8" y="672.3" font-size="9.8" text-anchor="middle">10<tspan font-size="6.8" dy="-3.8">2</tspan></text>
<text x="448.5" y="672.3" font-size="9.8" text-anchor="middle">10<tspan font-size="6.8" dy="-3.8">3</tspan></text>
<text x="479.3" y="672.3" font-size="9.8" text-anchor="middle">10<tspan font-size="6.8" dy="-3.8">4</tspan></text>
<text x="510.0" y="672.3" font-size="9.8" text-anchor="middle">10<tspan font-size="6.8" dy="-3.8">5</tspan></text>
<text x="445.9" y="686.4" font-size="11" text-anchor="middle" >MitoSOX</text>
<text font-size="10.9" text-anchor="middle" transform="translate(343.1 590.9) rotate(-90)" style="white-space:pre">% of Max</text>
<clipPath id="hcE"><rect x="366.8" y="505.3" width="153.49999999999994" height="155.09999999999997"/></clipPath>
<g clip-path="url(#hcE)" fill="none" stroke="#111" stroke-linejoin="round">
<path d="M384.1 659.9 C385.5 659.9 389.6 660.3 392.4 659.9 C395.1 659.6 398.4 659.1 400.6 657.9 C402.9 656.7 404.2 655.3 405.8 652.7 C407.3 650.1 408.7 646.5 409.9 642.4 C411.1 638.3 412.1 633.8 413.0 627.9 C413.9 622.1 414.7 614.9 415.5 607.3 C416.3 599.7 417.1 590.8 417.8 582.5 C418.5 574.3 419.0 565.7 419.6 557.8 C420.3 549.9 421.0 541.1 421.7 535.1 C422.4 529.1 423.2 524.2 423.7 521.7 C424.3 519.1 424.5 519.1 425.0 519.6 C425.4 520.1 425.9 521.5 426.4 524.8 C426.9 528.0 427.4 534.4 427.9 539.2 C428.3 544.0 428.7 548.5 429.1 553.7 C429.5 558.8 429.8 564.3 430.1 570.2 C430.5 576.0 430.9 582.5 431.2 588.7 C431.5 594.9 431.7 600.8 432.0 607.3 C432.3 613.8 432.7 621.7 433.0 627.9 C433.4 634.1 433.8 640.0 434.3 644.4 C434.8 648.9 435.4 652.4 436.1 654.8 C436.9 657.2 437.8 658.0 438.8 658.9 C439.8 659.8 440.4 659.8 441.9 659.9 C443.5 660.1 447.1 659.9 448.1 659.9" stroke-width="1.15" stroke-dasharray="1.5 1.8"/>
<path d="M417.1 659.9 C417.7 659.9 419.2 660.3 420.2 659.9 C421.3 659.6 422.4 659.4 423.3 657.9 C424.3 656.3 425.1 654.3 425.8 650.6 C426.6 647.0 427.3 642.0 427.9 636.2 C428.5 630.3 429.0 622.4 429.5 615.6 C430.0 608.7 430.6 601.1 431.0 594.9 C431.4 588.7 431.6 584.3 432.0 578.4 C432.4 572.6 432.8 566.4 433.2 559.8 C433.7 553.3 434.2 544.4 434.7 539.2 C435.2 534.0 435.6 531.5 436.1 528.9 C436.6 526.3 437.3 525.3 437.8 523.7 C438.3 522.2 438.8 519.8 439.2 519.6 C439.7 519.4 440.1 520.8 440.5 522.7 C440.8 524.6 441.1 527.5 441.5 531.0 C441.9 534.4 442.4 539.2 442.9 543.3 C443.5 547.5 444.0 551.6 444.6 555.7 C445.2 559.8 445.9 563.6 446.4 568.1 C447.0 572.6 447.5 577.4 448.1 582.5 C448.6 587.7 449.2 593.9 449.7 599.1 C450.3 604.2 450.7 609.0 451.2 613.5 C451.7 618.0 452.1 622.1 452.6 625.9 C453.2 629.7 453.7 633.1 454.3 636.2 C454.9 639.3 455.7 641.9 456.4 644.4 C457.0 647.0 457.6 649.8 458.4 651.7 C459.3 653.6 460.1 654.7 461.5 655.8 C462.9 656.9 464.8 657.8 466.7 658.5 C468.6 659.2 470.8 659.7 472.9 659.9 C474.9 660.2 478.0 659.9 479.1 659.9" stroke-width="1.2" stroke-dasharray="6 2.6"/>
<path d="M419.2 659.9 C419.7 659.9 421.1 660.1 422.3 659.9 C423.5 659.8 425.2 659.9 426.4 658.9 C427.6 657.9 428.6 656.8 429.5 653.7 C430.5 650.6 431.2 645.7 432.0 640.3 C432.8 635.0 433.4 628.3 434.1 621.7 C434.8 615.2 435.4 607.6 436.1 601.1 C436.8 594.6 437.5 589.1 438.2 582.5 C438.9 576.0 439.6 568.4 440.3 561.9 C440.9 555.4 441.6 548.8 442.3 543.3 C443.0 537.8 443.8 532.7 444.4 528.9 C445.0 525.1 445.6 522.3 446.0 520.6 C446.5 519.0 446.8 518.8 447.3 519.2 C447.7 519.5 448.3 520.4 448.7 522.7 C449.1 525.0 449.4 528.5 449.7 533.0 C450.1 537.5 450.5 543.7 450.8 549.5 C451.1 555.4 451.3 561.9 451.6 568.1 C451.9 574.3 452.2 580.5 452.4 586.7 C452.7 592.9 452.9 599.1 453.3 605.2 C453.6 611.4 453.9 618.7 454.3 623.8 C454.7 629.0 455.0 632.4 455.5 636.2 C456.0 640.0 456.7 643.8 457.4 646.5 C458.0 649.3 458.8 651.7 459.4 652.7 C460.1 653.7 460.9 651.8 461.5 652.3 C462.1 652.8 462.1 654.9 463.0 655.8 C463.8 656.7 465.4 657.4 466.7 657.9 C468.0 658.3 469.4 658.2 470.8 658.5 C472.2 658.7 473.5 659.1 474.9 659.3 C476.3 659.5 477.0 659.8 479.1 659.9 C481.1 660.0 485.9 659.9 487.3 659.9" stroke-width="1.2" stroke-dasharray="none"/>
</g>
<rect x="527.10" y="547.10" width="102.00" height="68.00" fill="#fff" stroke="#2a1717" stroke-width="2.4" />
<line x1="531.3" y1="558.5" x2="567.5" y2="558.5" stroke="#111" stroke-width="1.5" stroke-dasharray="none" stroke-dashoffset="0"/>
<text x="572" y="561.7" font-size="9.3" text-anchor="start" >Ctrl</text>
<line x1="531.3" y1="580.5" x2="567.5" y2="580.5" stroke="#111" stroke-width="1.6" stroke-dasharray="12 6.4" stroke-dashoffset="7.4"/>
<text x="572" y="583.7" font-size="9.3" text-anchor="start" >HRasG12V</text>
<line x1="531.3" y1="603" x2="567.5" y2="603" stroke="#111" stroke-width="1.5" stroke-dasharray="2.3 1.7" stroke-dashoffset="0"/>
<text x="572" y="606.2" font-size="9.3" text-anchor="start" >Unstained</text>
<text x="-0.7" y="725.7" font-size="17.5" text-anchor="start" >F</text>
<text x="73.4" y="744.3" font-size="9.3" text-anchor="start" >oligomycin</text>
<text x="136.8" y="744.3" font-size="9.3" text-anchor="start" >FCCP</text>
<text x="177.6" y="732.9" font-size="9.3" text-anchor="start" >rotenone/</text>
<text x="177.6" y="744.3" font-size="9.3" text-anchor="start" >antimycin A</text>
<line x1="97.1" y1="751" x2="97.1" y2="774.4" stroke="#111" stroke-width="0.95" />
<path d="M93.89999999999999 770.8 L97.1 774.4 L100.3 770.8" fill="none" stroke="#111" stroke-width="0.95"/>
<line x1="149.2" y1="751" x2="149.2" y2="774.4" stroke="#111" stroke-width="0.95" />
<path d="M146.0 770.8 L149.2 774.4 L152.39999999999998 770.8" fill="none" stroke="#111" stroke-width="0.95"/>
<line x1="200.2" y1="751" x2="200.2" y2="774.4" stroke="#111" stroke-width="0.95" />
<path d="M197.0 770.8 L200.2 774.4 L203.39999999999998 770.8" fill="none" stroke="#111" stroke-width="0.95"/>
<line x1="47.5" y1="766.0" x2="47.5" y2="908.3" stroke="#111" stroke-width="1.8" />
<line x1="47.0" y1="907.5" x2="253.29999999999998" y2="907.5" stroke="#111" stroke-width="1.8" />
<line x1="44.1" y1="907.5" x2="47.5" y2="907.5" stroke="#111" stroke-width="1.4" />
<line x1="44.1" y1="879.32" x2="47.5" y2="879.32" stroke="#111" stroke-width="1.4" />
<text x="38.4" y="882.62" font-size="9.3" text-anchor="end" >50</text>
<line x1="44.1" y1="851.14" x2="47.5" y2="851.14" stroke="#111" stroke-width="1.4" />
<text x="38.4" y="854.4399999999999" font-size="9.3" text-anchor="end" >100</text>
<line x1="44.1" y1="822.96" x2="47.5" y2="822.96" stroke="#111" stroke-width="1.4" />
<text x="38.4" y="826.26" font-size="9.3" text-anchor="end" >150</text>
<line x1="44.1" y1="794.78" x2="47.5" y2="794.78" stroke="#111" stroke-width="1.4" />
<text x="38.4" y="798.0799999999999" font-size="9.3" text-anchor="end" >200</text>
<line x1="44.1" y1="766.6" x2="47.5" y2="766.6" stroke="#111" stroke-width="1.4" />
<text x="38.4" y="769.9" font-size="9.3" text-anchor="end" >250</text>
<line x1="47.5" y1="907.5" x2="47.5" y2="912.2" stroke="#111" stroke-width="1.4" />
<line x1="98.75" y1="907.5" x2="98.75" y2="912.2" stroke="#111" stroke-width="1.4" />
<line x1="150.0" y1="907.5" x2="150.0" y2="912.2" stroke="#111" stroke-width="1.4" />
<line x1="201.25" y1="907.5" x2="201.25" y2="912.2" stroke="#111" stroke-width="1.4" />
<line x1="252.49999999999997" y1="907.5" x2="252.49999999999997" y2="912.2" stroke="#111" stroke-width="1.4" />
<text x="41.3" y="917.4" font-size="9.3" text-anchor="middle" >0</text>
<text x="150.0" y="922" font-size="9.3" text-anchor="middle" >50</text>
<text x="251.99999999999997" y="922.6" font-size="9.3" text-anchor="middle" >100</text>
<text x="262.4" y="929.6" font-size="9.3" text-anchor="start" >(min)</text>
<text font-size="9.5" text-anchor="middle" transform="translate(14.1 839.5) rotate(-90)">OCR(pmol/min/20000cells)</text>
<polyline points="55.9,850.3 73.0,852.2 90.0,853.8 107.1,886.5 124.2,886.5 141.2,886.5 158.3,806.9 175.4,804.0 192.5,807.6 209.5,894.0 226.6,894.0 243.7,894.0" fill="none" stroke="#111" stroke-width="1.9" stroke-linejoin="round"/>
<line x1="158.32" y1="798.5" x2="158.32" y2="815.3" stroke="#111" stroke-width="1.5" />
<line x1="154.51999999999998" y1="798.5" x2="162.12" y2="798.5" stroke="#111" stroke-width="1.5" />
<line x1="154.51999999999998" y1="815.3" x2="162.12" y2="815.3" stroke="#111" stroke-width="1.5" />
<line x1="175.39000000000001" y1="795" x2="175.39000000000001" y2="812.5" stroke="#111" stroke-width="1.5" />
<line x1="171.59" y1="795" x2="179.19000000000003" y2="795" stroke="#111" stroke-width="1.5" />
<line x1="171.59" y1="812.5" x2="179.19000000000003" y2="812.5" stroke="#111" stroke-width="1.5" />
<line x1="192.46" y1="799.5" x2="192.46" y2="816" stroke="#111" stroke-width="1.5" />
<line x1="188.66" y1="799.5" x2="196.26000000000002" y2="799.5" stroke="#111" stroke-width="1.5" />
<line x1="188.66" y1="816" x2="196.26000000000002" y2="816" stroke="#111" stroke-width="1.5" />
<circle cx="55.9" cy="850.3" r="5.2" fill="#0a0a0a"/>
<circle cx="73.0" cy="852.2" r="5.2" fill="#0a0a0a"/>
<circle cx="90.0" cy="853.8" r="5.2" fill="#0a0a0a"/>
<circle cx="107.1" cy="886.5" r="5.2" fill="#0a0a0a"/>
<circle cx="124.2" cy="886.5" r="5.2" fill="#0a0a0a"/>
<circle cx="141.2" cy="886.5" r="5.2" fill="#0a0a0a"/>
<circle cx="158.3" cy="806.9" r="5.2" fill="#0a0a0a"/>
<circle cx="175.4" cy="804.0" r="5.2" fill="#0a0a0a"/>
<circle cx="192.5" cy="807.6" r="5.2" fill="#0a0a0a"/>
<circle cx="209.5" cy="894.0" r="5.2" fill="#0a0a0a"/>
<circle cx="226.6" cy="894.0" r="5.2" fill="#0a0a0a"/>
<circle cx="243.7" cy="894.0" r="5.2" fill="#0a0a0a"/>
<polyline points="55.9,886.0 73.0,887.3 90.0,887.6 107.1,896.3 124.2,896.3 141.2,896.3 158.3,876.2 175.4,873.3 192.5,875.5 209.5,898.8 226.6,898.8 243.7,898.8" fill="none" stroke="#111" stroke-width="1.9" stroke-linejoin="round"/>
<circle cx="55.9" cy="886.0" r="4.5" fill="#fff" stroke="#111" stroke-width="1.6"/>
<circle cx="73.0" cy="887.3" r="4.5" fill="#fff" stroke="#111" stroke-width="1.6"/>
<circle cx="90.0" cy="887.6" r="4.5" fill="#fff" stroke="#111" stroke-width="1.6"/>
<circle cx="107.1" cy="896.3" r="4.5" fill="#fff" stroke="#111" stroke-width="1.6"/>
<circle cx="124.2" cy="896.3" r="4.5" fill="#fff" stroke="#111" stroke-width="1.6"/>
<circle cx="141.2" cy="896.3" r="4.5" fill="#fff" stroke="#111" stroke-width="1.6"/>
<circle cx="158.3" cy="876.2" r="4.5" fill="#fff" stroke="#111" stroke-width="1.6"/>
<circle cx="175.4" cy="873.3" r="4.5" fill="#fff" stroke="#111" stroke-width="1.6"/>
<circle cx="192.5" cy="875.5" r="4.5" fill="#fff" stroke="#111" stroke-width="1.6"/>
<circle cx="209.5" cy="898.8" r="4.5" fill="#fff" stroke="#111" stroke-width="1.6"/>
<circle cx="226.6" cy="898.8" r="4.5" fill="#fff" stroke="#111" stroke-width="1.6"/>
<circle cx="243.7" cy="898.8" r="4.5" fill="#fff" stroke="#111" stroke-width="1.6"/>
<polyline points="55.9,886.5 73.0,887.8 90.0,888.1 107.1,896.7 124.2,896.7 141.2,896.7 158.3,885.6 175.4,883.5 192.5,884.2 209.5,897.6 226.6,897.6 243.7,897.6" fill="none" stroke="#111" stroke-width="1.9" stroke-linejoin="round"/>
<circle cx="55.9" cy="886.5" r="4.5" fill="#c2c2c2" stroke="#111" stroke-width="1.6"/>
<circle cx="73.0" cy="887.8" r="4.5" fill="#c2c2c2" stroke="#111" stroke-width="1.6"/>
<circle cx="90.0" cy="888.1" r="4.5" fill="#c2c2c2" stroke="#111" stroke-width="1.6"/>
<circle cx="107.1" cy="896.7" r="4.5" fill="#c2c2c2" stroke="#111" stroke-width="1.6"/>
<circle cx="124.2" cy="896.7" r="4.5" fill="#c2c2c2" stroke="#111" stroke-width="1.6"/>
<circle cx="141.2" cy="896.7" r="4.5" fill="#c2c2c2" stroke="#111" stroke-width="1.6"/>
<circle cx="158.3" cy="885.6" r="4.5" fill="#c2c2c2" stroke="#111" stroke-width="1.6"/>
<circle cx="175.4" cy="883.5" r="4.5" fill="#c2c2c2" stroke="#111" stroke-width="1.6"/>
<circle cx="192.5" cy="884.2" r="4.5" fill="#c2c2c2" stroke="#111" stroke-width="1.6"/>
<circle cx="209.5" cy="897.6" r="4.5" fill="#c2c2c2" stroke="#111" stroke-width="1.6"/>
<circle cx="226.6" cy="897.6" r="4.5" fill="#c2c2c2" stroke="#111" stroke-width="1.6"/>
<circle cx="243.7" cy="897.6" r="4.5" fill="#c2c2c2" stroke="#111" stroke-width="1.6"/>
<rect x="224.20" y="784.10" width="133.00" height="69.20" fill="#fff" stroke="#1a1212" stroke-width="2" />
<line x1="230.2" y1="797.8" x2="263.6" y2="797.8" stroke="#111" stroke-width="1.9" />
<circle cx="246.6" cy="797.8" r="3" fill="#0a0a0a"/>
<text x="266" y="801.3" font-size="10.05" text-anchor="start" >WT</text>
<line x1="230.2" y1="817.8" x2="263.6" y2="817.8" stroke="#111" stroke-width="1.9" />
<circle cx="246.6" cy="817.8" r="2.6" fill="#fff" stroke="#111" stroke-width="1.3"/>
<text x="266" y="821.3" font-size="10.05" text-anchor="start" >p32 KO</text>
<line x1="230.2" y1="837.9" x2="263.6" y2="837.9" stroke="#111" stroke-width="1.9" />
<circle cx="246.6" cy="837.9" r="2.6" fill="#c4c4c4" stroke="#111" stroke-width="1.3"/>
<text x="266" y="841.4" font-size="10.05" text-anchor="start" >p32 KO HRasG12V</text>
<line x1="417.0" y1="781.7" x2="417.0" y2="916.9" stroke="#111" stroke-width="1.9" />
<line x1="416.5" y1="914.4" x2="594.2" y2="914.4" stroke="#111" stroke-width="1.9" />
<line x1="414.2" y1="914.4" x2="417.0" y2="914.4" stroke="#111" stroke-width="1.3" />
<text x="410.7" y="917.9" font-size="9.7" text-anchor="end" >0</text>
<line x1="414.2" y1="899.7111111111111" x2="417.0" y2="899.7111111111111" stroke="#111" stroke-width="1.3" />
<text x="410.7" y="903.2111111111111" font-size="9.7" text-anchor="end" >20</text>
<line x1="414.2" y1="885.0222222222222" x2="417.0" y2="885.0222222222222" stroke="#111" stroke-width="1.3" />
<text x="410.7" y="888.5222222222222" font-size="9.7" text-anchor="end" >40</text>
<line x1="414.2" y1="870.3333333333334" x2="417.0" y2="870.3333333333334" stroke="#111" stroke-width="1.3" />
<text x="410.7" y="873.8333333333334" font-size="9.7" text-anchor="end" >60</text>
<line x1="414.2" y1="855.6444444444445" x2="417.0" y2="855.6444444444445" stroke="#111" stroke-width="1.3" />
<text x="410.7" y="859.1444444444445" font-size="9.7" text-anchor="end" >80</text>
<line x1="414.2" y1="840.9555555555555" x2="417.0" y2="840.9555555555555" stroke="#111" stroke-width="1.3" />
<text x="410.7" y="844.4555555555555" font-size="9.7" text-anchor="end" >100</text>
<line x1="414.2" y1="826.2666666666667" x2="417.0" y2="826.2666666666667" stroke="#111" stroke-width="1.3" />
<text x="410.7" y="829.7666666666667" font-size="9.7" text-anchor="end" >120</text>
<line x1="414.2" y1="811.5777777777778" x2="417.0" y2="811.5777777777778" stroke="#111" stroke-width="1.3" />
<text x="410.7" y="815.0777777777778" font-size="9.7" text-anchor="end" >140</text>
<line x1="414.2" y1="796.8888888888889" x2="417.0" y2="796.8888888888889" stroke="#111" stroke-width="1.3" />
<text x="410.7" y="800.3888888888889" font-size="9.7" text-anchor="end" >160</text>
<line x1="414.2" y1="782.2" x2="417.0" y2="782.2" stroke="#111" stroke-width="1.3" />
<text x="410.7" y="785.7" font-size="9.7" text-anchor="end" >180</text>
<line x1="476" y1="914.4" x2="476" y2="917.1999999999999" stroke="#111" stroke-width="1.4" />
<line x1="535.8" y1="914.4" x2="535.8" y2="917.1999999999999" stroke="#111" stroke-width="1.4" />
<line x1="593.6" y1="914.4" x2="593.6" y2="917.1999999999999" stroke="#111" stroke-width="1.4" />
<text font-size="9.5" text-anchor="middle" transform="translate(385.7 851.3) rotate(-90)">OCR(pmol/min/20000cells)</text>
<line x1="434.15" y1="862.4013333333334" x2="434.15" y2="860.3448888888889" stroke="#111" stroke-width="1.4" />
<line x1="430.54999999999995" y1="860.3448888888889" x2="437.75" y2="860.3448888888889" stroke="#111" stroke-width="1.4" />
<rect x="426.90" y="862.40" width="14.50" height="52.00" fill="#0a0a0a" stroke="none" stroke-width="0" />
<line x1="447.59999999999997" y1="897.0671111111111" x2="447.59999999999997" y2="896.7733333333333" stroke="#111" stroke-width="1.4" />
<line x1="443.99999999999994" y1="896.7733333333333" x2="451.2" y2="896.7733333333333" stroke="#111" stroke-width="1.4" />
<rect x="441.90" y="897.57" width="11.40" height="16.83" fill="#fff" stroke="#111" stroke-width="1.1" />
<line x1="460.59999999999997" y1="901.9144444444445" x2="460.59999999999997" y2="899.2704444444445" stroke="#111" stroke-width="1.4" />
<line x1="456.99999999999994" y1="899.2704444444445" x2="464.2" y2="899.2704444444445" stroke="#111" stroke-width="1.4" />
<rect x="454.30" y="902.41" width="12.60" height="11.99" fill="#bdbdbd" stroke="#111" stroke-width="1.1" />
<line x1="492.55" y1="871.5084444444444" x2="492.55" y2="869.3051111111112" stroke="#111" stroke-width="1.4" />
<line x1="488.95" y1="869.3051111111112" x2="496.15000000000003" y2="869.3051111111112" stroke="#111" stroke-width="1.4" />
<rect x="485.30" y="871.51" width="14.50" height="42.89" fill="#0a0a0a" stroke="none" stroke-width="0" />
<line x1="506.0" y1="901.6206666666667" x2="506.0" y2="901.0331111111111" stroke="#111" stroke-width="1.4" />
<line x1="502.4" y1="901.0331111111111" x2="509.6" y2="901.0331111111111" stroke="#111" stroke-width="1.4" />
<rect x="500.30" y="902.12" width="11.40" height="12.28" fill="#fff" stroke="#111" stroke-width="1.1" />
<line x1="519.0" y1="903.0895555555555" x2="519.0" y2="901.3268888888889" stroke="#111" stroke-width="1.4" />
<line x1="515.4" y1="901.3268888888889" x2="522.6" y2="901.3268888888889" stroke="#111" stroke-width="1.4" />
<rect x="512.70" y="903.59" width="12.60" height="10.81" fill="#bdbdbd" stroke="#111" stroke-width="1.1" />
<line x1="550.95" y1="800.9283333333334" x2="550.95" y2="790.8664444444445" stroke="#111" stroke-width="1.4" />
<line x1="547.35" y1="790.8664444444445" x2="554.5500000000001" y2="790.8664444444445" stroke="#111" stroke-width="1.4" />
<rect x="543.70" y="800.93" width="14.50" height="113.47" fill="#0a0a0a" stroke="none" stroke-width="0" />
<line x1="564.4000000000001" y1="880.1748888888889" x2="564.4000000000001" y2="879.1466666666666" stroke="#111" stroke-width="1.4" />
<line x1="560.8000000000001" y1="879.1466666666666" x2="568.0000000000001" y2="879.1466666666666" stroke="#111" stroke-width="1.4" />
<rect x="558.70" y="880.67" width="11.40" height="33.73" fill="#fff" stroke="#111" stroke-width="1.1" />
<line x1="577.4" y1="896.0388888888889" x2="577.4" y2="893.6886666666667" stroke="#111" stroke-width="1.4" />
<line x1="573.8" y1="893.6886666666667" x2="581.0" y2="893.6886666666667" stroke="#111" stroke-width="1.4" />
<rect x="571.10" y="896.54" width="12.60" height="17.86" fill="#bdbdbd" stroke="#111" stroke-width="1.1" />
<path d="M433.8 855.5999999999999 V851.3 H451 V855.5999999999999" fill="none" stroke="#333" stroke-width="0.8"/>
<text x="442.2" y="852.4" font-size="16.5" text-anchor="middle" >*</text>
<path d="M492.4 864.4 V860.1 H509.5 V864.4" fill="none" stroke="#333" stroke-width="0.8"/>
<text x="501.1" y="861.6" font-size="16.5" text-anchor="middle" >*</text>
<path d="M550.4 787.6999999999999 V783.4 H568 V787.6999999999999" fill="none" stroke="#333" stroke-width="0.8"/>
<text x="559" y="783.8" font-size="16.5" text-anchor="middle" >*</text>
<text x="447.3" y="928.8" font-size="9.3" text-anchor="middle" >basal</text>
<text x="505.9" y="928.8" font-size="9.3" text-anchor="middle" >ATP</text>
<text x="563.9" y="928.8" font-size="9.3" text-anchor="middle" >maximal</text>
<rect x="426.50" y="760.20" width="103.90" height="64.60" fill="#fff" stroke="#1a1212" stroke-width="1.9" />
<rect x="436.50" y="769.20" width="5.60" height="5.60" fill="#0a0a0a" stroke="none" stroke-width="0" />
<text x="443" y="775.4" font-size="9.7" text-anchor="start" >WT</text>
<rect x="437.10" y="789.70" width="4.50" height="4.50" fill="#fff" stroke="#111" stroke-width="1.3" />
<text x="443" y="795.5" font-size="9.7" text-anchor="start" >p32 KO</text>
<rect x="437.10" y="809.00" width="4.50" height="4.50" fill="#bdbdbd" stroke="#111" stroke-width="1.3" />
<text x="443" y="814.8" font-size="9.7" text-anchor="start" >p32 KO HRasG12V</text>
</svg>
</body></html>
